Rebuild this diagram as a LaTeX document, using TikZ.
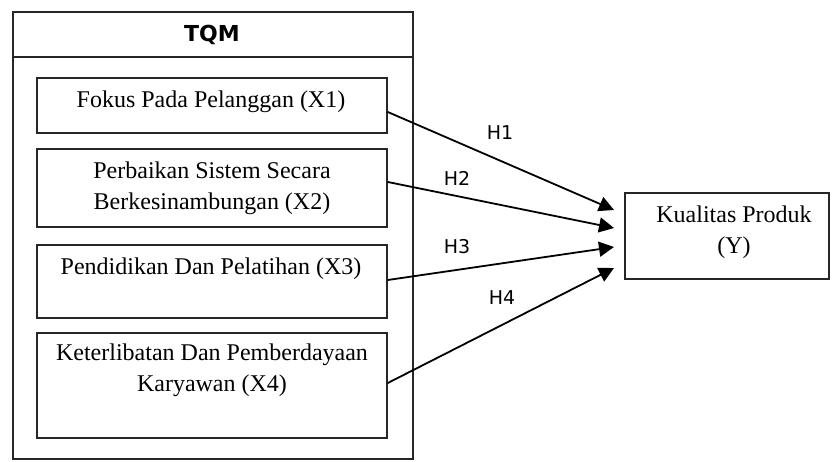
\documentclass[tikz,border=0pt]{standalone}
\usepackage{fontspec}
\setmainfont{Liberation Serif}
\newfontfamily\labfont{DejaVu Sans}
\usetikzlibrary{arrows.meta}
\begin{document}
\begin{tikzpicture}[x=1pt,y=-1pt,
  box/.style={draw=black!85,line width=1.6pt},
  txt/.style={font=\fontsize{24}{31}\selectfont,align=center,inner sep=0pt},
  hlab/.style={font=\labfont\fontsize{19}{21}\selectfont,inner sep=0pt},
  arr/.style={line width=1.8pt,-{Triangle[length=15pt,width=15pt]}}]
\useasboundingbox (0,0) rectangle (832,462);
% outer TQM box
\draw[box] (13,12) rectangle (413,459);
\draw[box] (13,57) -- (413,57);
\node[inner sep=0pt,font=\labfont\bfseries\fontsize{22}{24}\selectfont] (tqm) at (212,35) {TQM};
% inner boxes
\node[box,minimum width=350pt,minimum height=55pt,inner sep=0pt] (b1) at (212,105.5) {};
\node[box,minimum width=350pt,minimum height=78pt,inner sep=0pt] (b2) at (212,188) {};
\node[box,minimum width=350pt,minimum height=73pt,inner sep=0pt] (b3) at (212,281.5) {};
\node[box,minimum width=350pt,minimum height=105pt,inner sep=0pt] (b4) at (212,385.5) {};
\node[txt] (t1) at (211,102) {Fokus Pada Pelanggan (X1)};
\node[txt] (t2) at (212,188) {Perbaikan Sistem Secara\\Berkesinambungan (X2)};
\node[txt] (t3) at (211,269) {Pendidikan Dan Pelatihan (X3)};
\node[txt] (t4) at (212,370) {Keterlibatan Dan Pemberdayaan\\Karyawan (X4)};
% Y box
\node[box,minimum width=204pt,minimum height=86pt,inner sep=0pt] (y) at (727,236) {};
\node[txt] (ty) at (734,232) {Kualitas Produk\\(Y)};
% coordinates
\coordinate (e1) at (614,210);
\coordinate (e2) at (614,228);
\coordinate (e3) at (614,247);
\coordinate (e4) at (614,268);
\draw[arr] (b1.east |- 0,112) -- (e1);
\draw[arr] (b2.east |- 0,182) -- (e2);
\draw[arr] (b3.east |- 0,280) -- (e3);
\draw[arr] (b4.east |- 0,383) -- (e4);
\node[hlab] (h1) at (500,133) {H1};
\node[hlab] (h2) at (457,178) {H2};
\node[hlab] (h3) at (457,247) {H3};
\node[hlab] (h4) at (502,298) {H4};
\end{tikzpicture}
\end{document}
